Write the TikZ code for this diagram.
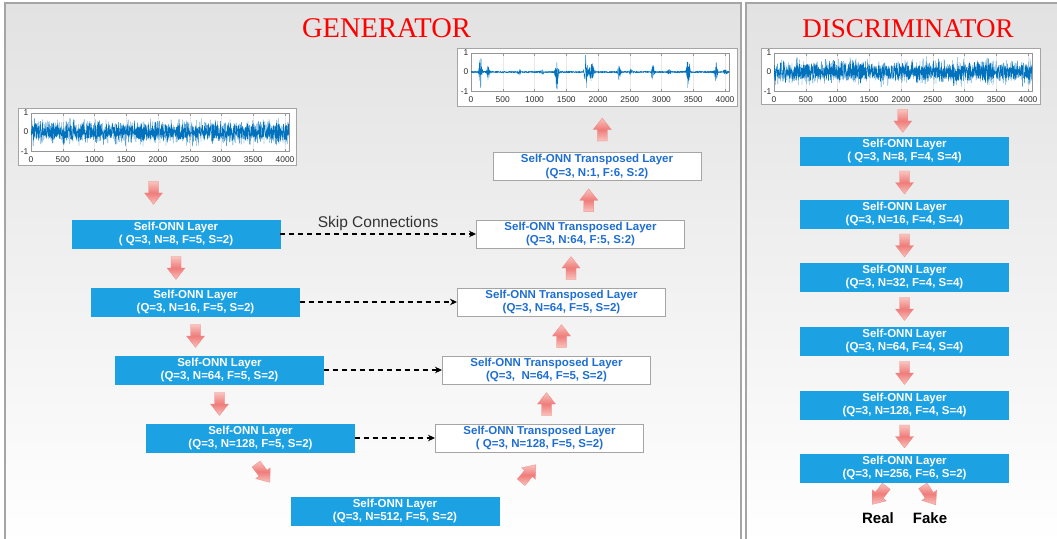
\documentclass[tikz,border=0pt]{standalone}
\usepackage{fontspec}
\setmainfont{Liberation Sans}
\newfontfamily\titlefont{Liberation Serif}
\usetikzlibrary{calc,arrows.meta}

\definecolor{boxblue}{RGB}{28,161,226}
\definecolor{txtblue}{RGB}{30,110,210}
\definecolor{framegray}{RGB}{165,165,165}
\definecolor{arrL}{RGB}{249,196,190}
\definecolor{arrD}{RGB}{239,124,122}
\definecolor{sigblue}{RGB}{0,114,189}
\definecolor{panelgray}{RGB}{226,226,226}
\definecolor{labgray}{RGB}{45,45,45}

% inner axes box of a signal plot: #1 left, #2 top (width 258, height 38)
\newcommand\sigaxes[2]{%
  \fill[white] (#1,#2) rectangle ++(258,38);
  \foreach \k in {1,...,8}
    \draw[gridline] ({#1+\k*31.75},#2) -- ++(0,38);
  \draw[axisline] (#1,#2) rectangle ++(258,38);
  \foreach \k [count=\i from 0] in {0,500,...,4000}{
    \draw[axisline] ({#1+\i*31.75},{#2+38}) -- ++(0,-2.5);
    \draw[axisline] ({#1+\i*31.75},#2) -- ++(0,2.5);
    \node[ticklab] at ({#1+\i*31.75},{#2+46.5}) {\k};
  }
  \draw[axisline] (#1,#2) -- ++(2.5,0);
  \draw[axisline] (#1,{#2+19}) -- ++(2.5,0);
  \draw[axisline] (#1,{#2+38}) -- ++(2.5,0);
  \node[ticklab, anchor=east] at ({#1-2.5},{#2-0.5}) {1};
  \node[ticklab, anchor=east] at ({#1-2.5},{#2+19}) {0};
  \node[ticklab, anchor=east] at ({#1-2.5},{#2+38.5}) {-1};
}

\begin{document}
\begin{tikzpicture}[x=1pt, y=-1pt,
  declare function={
    bu(\t,\c,\w)=exp(0-pow(min(abs(\t-\c)/\w,6),2));
    env(\t)=0.95*bu(\t,150,22)+0.40*bu(\t,270,25)+0.20*bu(\t,760,28)
           +0.14*bu(\t,1120,30)+1.00*bu(\t,1350,24)+0.90*bu(\t,1810,26)
           +0.50*bu(\t,1900,38)+0.42*bu(\t,2330,25)+0.16*bu(\t,2520,30)
           +0.45*bu(\t,2860,25)+0.17*bu(\t,3120,30)+0.90*bu(\t,3420,24)
           +0.50*bu(\t,3860,25)+0.14*bu(\t,4010,35);
    nz=0.85*(rand+rand+rand)/3;
  },
  layer/.style={minimum width=208pt, minimum height=28pt, inner sep=0pt,
    align=center, font=\bfseries\fontsize{11.5}{13.5}\selectfont},
  enc/.style={layer, fill=boxblue, draw=boxblue, text=white},
  dec/.style={layer, fill=white, draw=framegray, line width=1pt, text=txtblue},
  plotframe/.style={draw=framegray, fill=white, line width=1pt, inner sep=0pt},
  gridline/.style={draw={rgb,255:red,232;green,232;blue,232}, line width=0.5pt},
  axisline/.style={draw={rgb,255:red,150;green,150;blue,150}, line width=0.5pt},
  ticklab/.style={font=\fontsize{8.4}{9}\selectfont, text=labgray, inner sep=0pt},
  sig/.style={draw=sigblue, line width=0.3pt, line join=round},
  panel/.style={draw=framegray, line width=1.1pt},
  skip/.style={draw=black, line width=1.1pt, dash pattern=on 5pt off 4pt,
    -{Stealth[length=7pt, width=6.5pt]}},
  title/.style={font=\titlefont\fontsize{28.5}{30}\selectfont, text=red, inner sep=0pt, anchor=base},
  redarrow/.pic={
    \shadedraw[top color=arrL, bottom color=arrL, middle color=arrD,
      draw=arrD!90!white, line width=0.3pt]
      (-11.5,-5) -- (0,-5) -- (0,-9) -- (11.5,0) -- (0,9) -- (0,5) -- (-11.5,5) -- cycle;
  }
]
\useasboundingbox (0,0) rectangle (1057,538);
\clip (0,0) rectangle (1057,538);

% ---------- panels ----------
\shade[top color=panelgray, bottom color=white] (5,3) rectangle (741,545);
\draw[panel] (5,545) -- (5,3) -- (741,3) -- (741,545);
\shade[top color=panelgray, bottom color=white] (746,3) rectangle (1062,545);
\draw[panel] (746,545) -- (746,3) -- (1062,3);

\node[title] (gtitle) at (386.5,37) {GENERATOR};
\node[title, font=\titlefont\fontsize{27}{30}\selectfont] (dtitle) at (908,37) {DISCRIMINATOR};

% ---------- signal plots ----------
\node[plotframe, minimum width=278pt, minimum height=57pt, anchor=north west] (gin) at (18,108) {};
\sigaxes{31}{113}
\pgfmathsetseed{17}
\begin{scope}
  \clip (31,113) rectangle ++(258,38);
  \draw[sig] plot[domain=0:4063, samples=2200, variable=\t]
    ({31+\t*0.0635}, {132-19*nz});
\end{scope}

\node[plotframe, minimum width=280pt, minimum height=58pt, anchor=north west] (gout) at (457,48) {};
\sigaxes{471}{53}
\pgfmathsetseed{5}
\begin{scope}
  \clip (471,53) rectangle ++(258,38);
  \draw[sig] plot[domain=0:4063, samples=2200, variable=\t]
    ({471+\t*0.0635}, {72-19*(0.05*rand+rand*env(\t))});
\end{scope}

\node[plotframe, minimum width=279pt, minimum height=56pt, anchor=north west] (din) at (761,48) {};
\sigaxes{774}{53}
\pgfmathsetseed{29}
\begin{scope}
  \clip (774,53) rectangle ++(258,38);
  \draw[sig] plot[domain=0:4063, samples=2200, variable=\t]
    ({774+\t*0.0635}, {72-19*nz});
\end{scope}

% ---------- generator: encoder ----------
\node[enc] (g1) at (176,234)   {Self-ONN Layer\\( Q=3, N=8, F=5, S=2)};
\node[enc] (g2) at (195.5,302) {Self-ONN Layer\\(Q=3, N=16, F=5, S=2)};
\node[enc] (g3) at (219.5,370) {Self-ONN Layer\\(Q=3, N=64, F=5, S=2)};
\node[enc] (g4) at (250.5,438) {Self-ONN Layer\\(Q=3, N=128, F=5, S=2)};
\node[enc] (g5) at (395,511)   {Self-ONN Layer\\(Q=3, N=512, F=5, S=2)};

% ---------- generator: decoder ----------
\node[dec] (t4) at (539.5,438) {Self-ONN Transposed Layer\\( Q=3, N=128, F=5, S=2)};
\node[dec] (t3) at (546.5,370) {Self-ONN Transposed Layer\\(Q=3, \ N=64, F=5, S=2)};
\node[dec] (t2) at (561.5,302) {Self-ONN Transposed Layer\\(Q=3, N=64, F=5, S=2)};
\node[dec] (t1) at (580.5,234) {Self-ONN Transposed Layer\\(Q=3, N:64, F:5, S:2)};
\node[dec] (t0) at (597,166.5) {Self-ONN Transposed Layer\\(Q=3, N:1, F:6, S:2)};

% ---------- discriminator ----------
\node[enc] (d1) at (904.5,151) {Self-ONN Layer\\( Q=3, N=8, F=4, S=4)};
\node[enc] (d2) at (904.5,214) {Self-ONN Layer\\(Q=3, N=16, F=4, S=4)};
\node[enc] (d3) at (904.5,277) {Self-ONN Layer\\(Q=3, N=32, F=4, S=4)};
\node[enc] (d4) at (904.5,341) {Self-ONN Layer\\(Q=3, N=64, F=4, S=4)};
\node[enc] (d5) at (904.5,405) {Self-ONN Layer\\(Q=3, N=128, F=4, S=4)};
\node[enc] (d6) at (904.5,468) {Self-ONN Layer\\(Q=3, N=256, F=6, S=2)};

\node[font=\bfseries\fontsize{15}{16}\selectfont, inner sep=0pt] (real) at (878,518) {Real};
\node[font=\bfseries\fontsize{15}{16}\selectfont, inner sep=0pt] (fake) at (930,518) {Fake};

% ---------- skip connections ----------
\draw[skip] (g1.east) -- (t1.west)
  node[midway, above, inner sep=3pt, text={rgb,255:red,50;green,50;blue,50},
       font=\fontsize{15.5}{16}\selectfont] {Skip Connections};
\draw[skip] (g2.east) -- (t2.west);
\draw[skip] (g3.east) -- (t3.west);
\draw[skip] (g4.east) -- (t4.west);

% ---------- flow arrows ----------
\pic[rotate=-90] at ($(gin.south)!0.5!(gin.south |- g1.north)+(-4,0)$) {redarrow};
\pic[rotate=-90] at ($(g1.south)!0.5!(g1.south |- g2.north)$) {redarrow};
\pic[rotate=-90] at ($(g2.south)!0.5!(g2.south |- g3.north)$) {redarrow};
\pic[rotate=-90] at ($(g3.south)!0.5!(g3.south |- g4.north)$) {redarrow};
\pic[rotate=-53] at ($(g4.south)+(12.5,21)$) {redarrow};
\pic[rotate=50]  at ($(t4.south)+(-11,21)$) {redarrow};
\pic[rotate=90]  at ($(t4.north -| t3.south)!0.5!(t3.south)$) {redarrow};
\pic[rotate=90]  at ($(t3.north -| t2.south)!0.5!(t2.south)$) {redarrow};
\pic[rotate=90]  at ($(t2.north)!0.5!(t1.south)$) {redarrow};
\pic[rotate=90]  at ($(t1.north)!0.5!(t0.south)$) {redarrow};
\pic[rotate=90]  at ($(t0.north)!0.5!(gout.south)+(5,0)$) {redarrow};

\pic[rotate=-90] at ($(din.south)!0.5!(d1.north)$) {redarrow};
\pic[rotate=-90] at ($(d1.south)!0.5!(d2.north)$) {redarrow};
\pic[rotate=-90] at ($(d2.south)!0.5!(d3.north)$) {redarrow};
\pic[rotate=-90] at ($(d3.south)!0.5!(d4.north)$) {redarrow};
\pic[rotate=-90] at ($(d4.south)!0.5!(d5.north)$) {redarrow};
\pic[rotate=-90] at ($(d5.south)!0.5!(d6.north)$) {redarrow};
\pic[rotate=-128] at ($(real.north)!0.5!(real.north -| d6.south)+(-12,-17)$) {redarrow};
\pic[rotate=-56]  at ($(fake.north)!0.5!(fake.north -| d6.south)+(12,-17)$) {redarrow};
\end{tikzpicture}
\end{document}
